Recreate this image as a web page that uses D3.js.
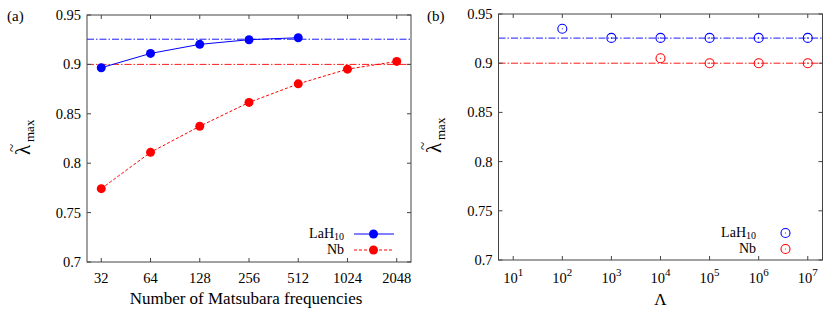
<!DOCTYPE html>
<html>
<head>
<meta charset="utf-8">
<script src="https://cdn.jsdelivr.net/npm/d3@7"></script>
<style>
  body { margin: 0; background: #fff; }
  svg text { font-family: "Liberation Serif", "DejaVu Serif", "Times New Roman", Times, serif; }
</style>
</head>
<body>
<svg id="chart" width="830" height="310"></svg>
<script>
// panel (a): convergence vs number of Matsubara frequencies
var nMatsu = [32, 64, 128, 256, 512, 1024, 2048];
var lahA = [0.8966, 0.9111, 0.9203, 0.9250, 0.9270];
var nbA = [0.7742, 0.8110, 0.8374, 0.8615, 0.8803, 0.8952, 0.9030];

// panel (b): convergence vs Lambda
var lambdaTicks = [1, 2, 3, 4, 5, 6, 7];
var lahLambda = [2, 3, 4, 5, 6, 7];
var lahB = [0.935, 0.9257, 0.9257, 0.9257, 0.9257, 0.9257];
var nbLambda = [4, 5, 6, 7];
var nbB = [0.905, 0.900, 0.900, 0.900];

// reference (converged) values
var lahRef = 0.9255;
var nbRef = 0.900;

var yTicks = [0.7, 0.75, 0.8, 0.85, 0.9, 0.95];
var blue = "#0000ff", red = "#ff0000";
var fs = "14.5px";

var svg = d3.select("#chart");

function frame(g, x0, x1, y0, y1) {
  g.append("rect")
    .attr("x", x0).attr("y", y0)
    .attr("width", x1 - x0).attr("height", y1 - y0)
    .attr("fill", "none").attr("stroke", "#444").attr("stroke-width", 1);
}

function yAxis(g, y, x0, x1) {
  yTicks.forEach(function(t) {
    g.append("line").attr("x1", x0).attr("x2", x0 + 4)
      .attr("y1", y(t)).attr("y2", y(t)).attr("stroke", "#444");
    g.append("line").attr("x1", x1).attr("x2", x1 - 4)
      .attr("y1", y(t)).attr("y2", y(t)).attr("stroke", "#444");
    g.append("text").attr("x", x0 - 6).attr("y", y(t) + 5)
      .attr("text-anchor", "end").style("font-size", fs)
      .text(String(t));
  });
}

// rotated lambda-tilde_max label; x = baseline position, yb = bottom end
function yLabel(g, x, yb) {
  var r = g.append("g").attr("transform", "translate(" + x + "," + yb + ") rotate(-90)");
  r.append("text").attr("x", 0).attr("y", 0).style("font-size", "21px").text("\u03BB");
  r.append("text").attr("x", 7).attr("y", -13).attr("text-anchor", "middle")
    .style("font-size", "15px").text("~");
  r.append("text").attr("x", 13).attr("y", 4).style("font-size", "13px").text("max");
}

function refLine(g, x0, x1, yv, col) {
  g.append("line").attr("x1", x0).attr("x2", x1)
    .attr("y1", yv).attr("y2", yv)
    .attr("stroke", col).attr("stroke-width", 0.9)
    .attr("stroke-dasharray", "7,2,1.5,2");
}

// legend label with separate subscript text
function legendLabel(g, xr, y, name, sub) {
  if (sub) {
    var s = g.append("text").attr("x", xr).attr("y", y + 5.5)
      .attr("text-anchor", "end").style("font-size", "10px").text(sub);
    var w = s.node().getComputedTextLength();
    g.append("text").attr("x", xr - w).attr("y", y + 4)
      .attr("text-anchor", "end").style("font-size", "14px").text(name);
  } else {
    g.append("text").attr("x", xr).attr("y", y + 4)
      .attr("text-anchor", "end").style("font-size", "14px").text(name);
  }
}

// ---------------- panel (a) ----------------
var ax0 = 87, ax1 = 411, ay0 = 15, ay1 = 262;
var xa = d3.scaleLog().base(2).domain([Math.pow(2, 4.71), Math.pow(2, 11.29)]).range([ax0, ax1]);
var ya = d3.scaleLinear().domain([0.7, 0.95]).range([ay1, ay0]);
var ga = svg.append("g");

refLine(ga, ax0, ax1, ya(lahRef), blue);
refLine(ga, ax0, ax1, ya(nbRef), red);
frame(ga, ax0, ax1, ay0, ay1);
yAxis(ga, ya, ax0, ax1);

nMatsu.forEach(function(n) {
  ga.append("line").attr("x1", xa(n)).attr("x2", xa(n))
    .attr("y1", ay1).attr("y2", ay1 - 4).attr("stroke", "#444");
  ga.append("line").attr("x1", xa(n)).attr("x2", xa(n))
    .attr("y1", ay0).attr("y2", ay0 + 4).attr("stroke", "#444");
  ga.append("text").attr("x", xa(n)).attr("y", 283)
    .attr("text-anchor", "middle").style("font-size", fs).text(n);
});

var lineA = d3.line().x(function(d) { return xa(d[0]); }).y(function(d) { return ya(d[1]); });
var lahPts = lahA.map(function(v, i) { return [nMatsu[i], v]; });
var nbPts = nbA.map(function(v, i) { return [nMatsu[i], v]; });

ga.append("path").datum(nbPts).attr("d", lineA)
  .attr("fill", "none").attr("stroke", red).attr("stroke-width", 1).attr("stroke-dasharray", "3,2");
ga.append("path").datum(lahPts).attr("d", lineA)
  .attr("fill", "none").attr("stroke", blue).attr("stroke-width", 1);

ga.selectAll(".nbA").data(nbPts).enter().append("circle")
  .attr("cx", function(d) { return xa(d[0]); }).attr("cy", function(d) { return ya(d[1]); })
  .attr("r", 4.5).attr("fill", red);
ga.selectAll(".lahA").data(lahPts).enter().append("circle")
  .attr("cx", function(d) { return xa(d[0]); }).attr("cy", function(d) { return ya(d[1]); })
  .attr("r", 4.5).attr("fill", blue);

// legend (a)
var lgA = [{name: "LaH", sub: "10", col: blue, dash: null, y: 234},
           {name: "Nb", sub: "", col: red, dash: "3,2", y: 250}];
lgA.forEach(function(d) {
  legendLabel(ga, 344, d.y, d.name, d.sub);
  ga.append("line").attr("x1", 354).attr("x2", 394).attr("y1", d.y).attr("y2", d.y)
    .attr("stroke", d.col).attr("stroke-width", 1).attr("stroke-dasharray", d.dash);
  ga.append("circle").attr("cx", 373.5).attr("cy", d.y).attr("r", 4.5).attr("fill", d.col);
});

yLabel(ga, 30, 155);
ga.append("text").attr("x", 246).attr("y", 304).attr("text-anchor", "middle")
  .style("font-size", "17px").text("Number of Matsubara frequencies");
ga.append("text").attr("x", 7).attr("y", 21).style("font-size", "15px").text("(a)");

// ---------------- panel (b) ----------------
var bx0 = 498.5, bx1 = 822.5, by0 = 14, by1 = 260;
var xb = d3.scaleLinear().domain([0.7, 7.3]).range([bx0, bx1]);
var yb = d3.scaleLinear().domain([0.7, 0.95]).range([by1, by0]);
var gb = svg.append("g");

refLine(gb, bx0, bx1, yb(lahRef), blue);
refLine(gb, bx0, bx1, yb(nbRef), red);
frame(gb, bx0, bx1, by0, by1);
yAxis(gb, yb, bx0, bx1);

lambdaTicks.forEach(function(e) {
  gb.append("line").attr("x1", xb(e)).attr("x2", xb(e))
    .attr("y1", by1).attr("y2", by1 - 4).attr("stroke", "#444");
  gb.append("line").attr("x1", xb(e)).attr("x2", xb(e))
    .attr("y1", by0).attr("y2", by0 + 4).attr("stroke", "#444");
  var t = gb.append("text").attr("x", xb(e)).attr("y", 283)
    .attr("text-anchor", "middle").style("font-size", fs);
  t.append("tspan").text("10");
  t.append("tspan").attr("dy", -7).style("font-size", "11px").text(e);
});

function openMarks(xs, vs, col) {
  xs.forEach(function(e, i) {
    gb.append("circle").attr("cx", xb(e)).attr("cy", yb(vs[i])).attr("r", 4.5)
      .attr("fill", "none").attr("stroke", col).attr("stroke-width", 1.1);
    gb.append("circle").attr("cx", xb(e)).attr("cy", yb(vs[i])).attr("r", 0.6).attr("fill", col);
  });
}
openMarks(lahLambda, lahB, blue);
openMarks(nbLambda, nbB, red);

var lgB = [{name: "LaH", sub: "10", col: blue, y: 233},
           {name: "Nb", sub: "", col: red, y: 249}];
lgB.forEach(function(d) {
  legendLabel(gb, 756, d.y, d.name, d.sub);
  gb.append("circle").attr("cx", 785.5).attr("cy", d.y).attr("r", 4.5)
    .attr("fill", "none").attr("stroke", d.col).attr("stroke-width", 1.1);
  gb.append("circle").attr("cx", 785.5).attr("cy", d.y).attr("r", 0.6).attr("fill", d.col);
});

yLabel(gb, 441, 153);
gb.append("text").attr("x", 660.5).attr("y", 305).attr("text-anchor", "middle")
  .style("font-size", "17px").text("\u039B");
gb.append("text").attr("x", 427).attr("y", 21).style("font-size", "15px").text("(b)");
</script>
</body>
</html>
